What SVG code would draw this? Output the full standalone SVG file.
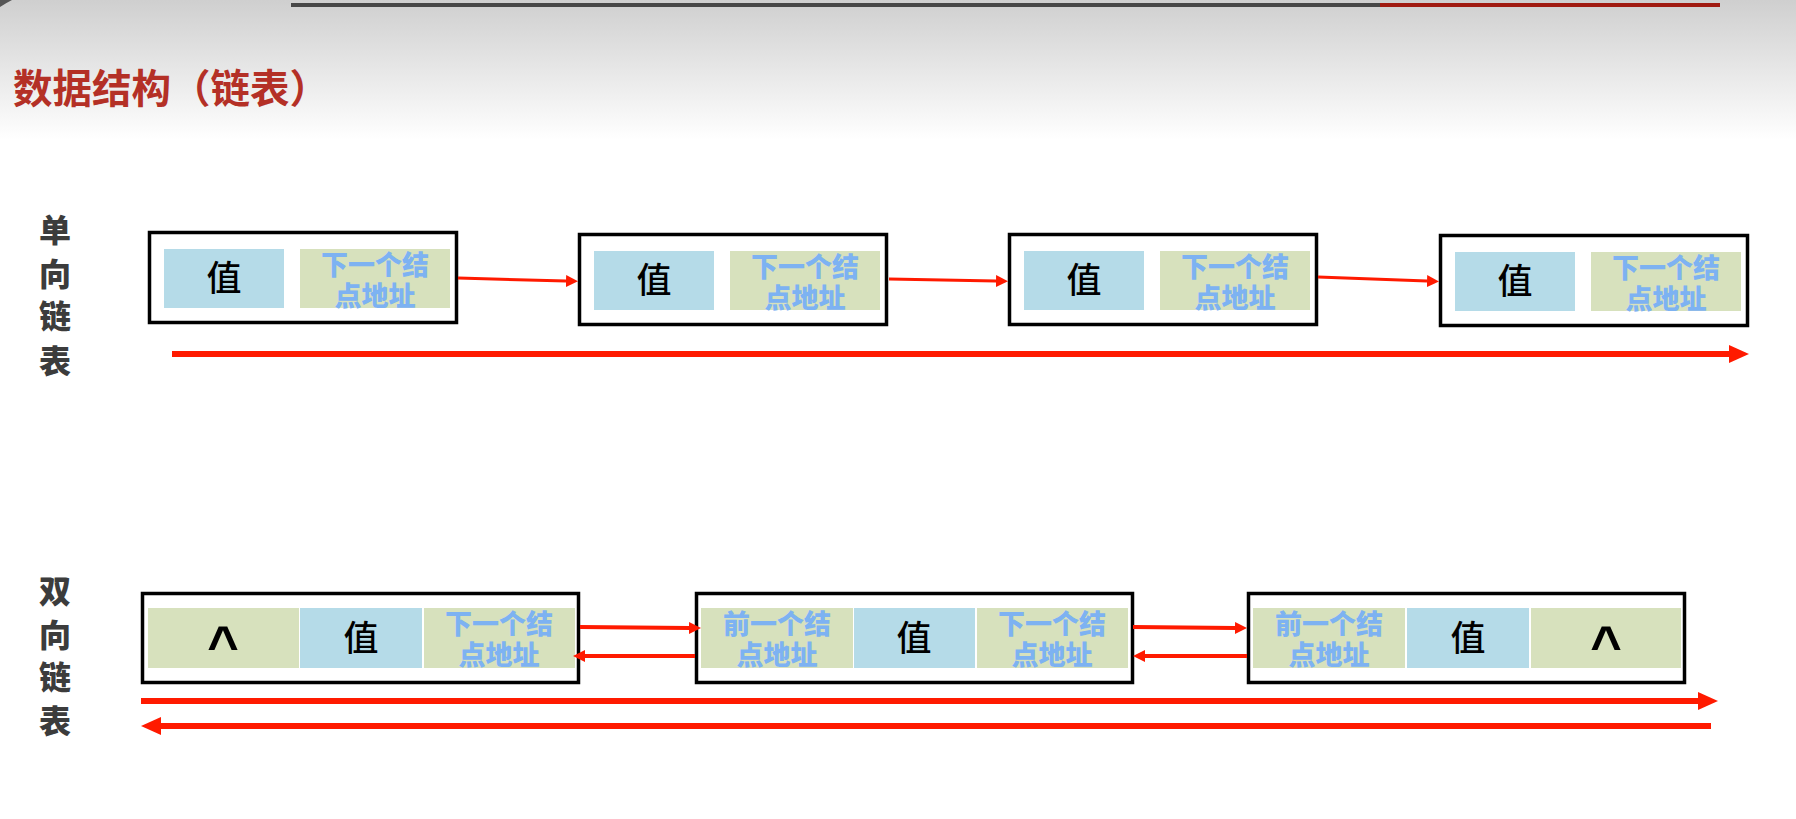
<svg xmlns="http://www.w3.org/2000/svg" width="1796" height="819" viewBox="0 0 1796 819">
<defs>
<linearGradient id="hdr" x1="0" y1="0" x2="0" y2="1">
<stop offset="0" stop-color="#cfcfcf"/>
<stop offset="1" stop-color="#ffffff"/>
</linearGradient>
<marker id="ah" markerUnits="userSpaceOnUse" markerWidth="12" markerHeight="12" viewBox="0 0 12 12" refX="0" refY="6" orient="auto"><path d="M0,0 L12,6 L0,12 z" fill="#ff1a00"/></marker>
<marker id="ahb" markerUnits="userSpaceOnUse" markerWidth="20" markerHeight="20" viewBox="0 0 20 20" refX="0" refY="10" orient="auto"><path d="M0,1 L20,10 L0,19 z" fill="#ff1a00"/></marker>
<style>
.box{fill:#ffffff;stroke:#000;stroke-width:3.5}
.cv{fill:#b5dbe8}
.cp{fill:#d7e1bd}
.val{font-family:"Noto Sans CJK SC","Noto Sans",sans-serif;font-size:35px;font-weight:500;fill:#000;text-anchor:middle}
.adr{font-family:"Noto Sans CJK SC","Noto Sans",sans-serif;font-size:27px;font-weight:900;fill:#7db2f2;text-anchor:middle}
.nil{font-family:"Liberation Sans",Arial,sans-serif;font-size:54px;font-weight:700;fill:#000;text-anchor:middle}
.lbl{font-family:"Noto Sans CJK SC","Noto Sans",sans-serif;font-size:32px;font-weight:900;fill:#3c3c3c;text-anchor:middle}
.ttl{font-family:"Noto Sans CJK SC","Noto Sans",sans-serif;font-size:39.5px;font-weight:700;fill:#b43026}
.c{stroke:#ff1a00;fill:none}
.thin{stroke-width:3;marker-end:url(#ah)}
.mid{stroke-width:4;marker-end:url(#ah)}
.thick{stroke-width:6;marker-end:url(#ahb)}
</style>
</defs>
<rect x="0" y="0" width="1796" height="819" fill="#ffffff"/>
<rect x="0" y="0" width="1796" height="140" fill="url(#hdr)"/>
<path d="M0,0 L12,0 Q6,3 0,7 z" fill="#555"/>
<rect x="291" y="3" width="1089" height="4" fill="#474747"/>
<rect x="1380" y="3" width="340" height="4" fill="#a01a10"/>
<text class="ttl" x="13" y="103">数据结构（链表）</text>

<g id="label-single">
<text class="lbl" x="55" y="242">单</text>
<text class="lbl" x="55" y="286">向</text>
<text class="lbl" x="55" y="328">链</text>
<text class="lbl" x="55" y="373">表</text>
</g>
<g id="label-double">
<text class="lbl" x="55" y="603">双</text>
<text class="lbl" x="55" y="647">向</text>
<text class="lbl" x="55" y="689">链</text>
<text class="lbl" x="55" y="733">表</text>
</g>

<g id="s1">
<rect class="box" x="149.5" y="232.5" width="307" height="90"/>
<rect class="cv" x="164" y="249" width="120" height="59"/>
<rect class="cp" x="300" y="249" width="150" height="59"/>
<text class="val" x="224" y="291">值</text>
<text class="adr" x="375" y="275">下一个结</text>
<text class="adr" x="375" y="306">点地址</text>
</g>
<g id="s2">
<rect class="box" x="579.5" y="234.5" width="307" height="90"/>
<rect class="cv" x="594" y="251" width="120" height="59"/>
<rect class="cp" x="730" y="251" width="150" height="59"/>
<text class="val" x="654" y="293">值</text>
<text class="adr" x="805" y="277">下一个结</text>
<text class="adr" x="805" y="308">点地址</text>
</g>
<g id="s3">
<rect class="box" x="1009.5" y="234.5" width="307" height="90"/>
<rect class="cv" x="1024" y="251" width="120" height="59"/>
<rect class="cp" x="1160" y="251" width="150" height="59"/>
<text class="val" x="1084" y="293">值</text>
<text class="adr" x="1235" y="277">下一个结</text>
<text class="adr" x="1235" y="308">点地址</text>
</g>
<g id="s4">
<rect class="box" x="1440.5" y="235.5" width="307" height="90"/>
<rect class="cv" x="1455" y="252" width="120" height="59"/>
<rect class="cp" x="1591" y="252" width="150" height="59"/>
<text class="val" x="1515" y="294">值</text>
<text class="adr" x="1666" y="278">下一个结</text>
<text class="adr" x="1666" y="309">点地址</text>
</g>

<g id="d1">
<rect class="box" x="142.5" y="593.5" width="436" height="89"/>
<rect class="cp" x="148" y="608" width="151" height="60"/>
<rect class="cv" x="300" y="608" width="122" height="60"/>
<rect class="cp" x="424" y="608" width="151" height="60"/>
<text class="nil" x="223" y="664">^</text>
<text class="val" x="361" y="651">值</text>
<text class="adr" x="499" y="634">下一个结</text>
<text class="adr" x="499" y="665">点地址</text>
</g>
<g id="d2">
<rect class="box" x="696.5" y="593.5" width="436" height="89"/>
<rect class="cp" x="701" y="608" width="152" height="60"/>
<rect class="cv" x="854" y="608" width="121" height="60"/>
<rect class="cp" x="977" y="608" width="151" height="60"/>
<text class="adr" x="777" y="634">前一个结</text>
<text class="adr" x="777" y="665">点地址</text>
<text class="val" x="914" y="651">值</text>
<text class="adr" x="1052" y="634">下一个结</text>
<text class="adr" x="1052" y="665">点地址</text>
</g>
<g id="d3">
<rect class="box" x="1248.5" y="593.5" width="436" height="89"/>
<rect class="cp" x="1253" y="608" width="152" height="60"/>
<rect class="cv" x="1407" y="608" width="122" height="60"/>
<rect class="cp" x="1531" y="608" width="150" height="60"/>
<text class="adr" x="1329" y="634">前一个结</text>
<text class="adr" x="1329" y="665">点地址</text>
<text class="val" x="1468" y="651">值</text>
<text class="nil" x="1606" y="664">^</text>
</g>

<g id="connectors">
<line class="c thin" x1="458" y1="278" x2="566" y2="281"/>
<line class="c thin" x1="889" y1="279" x2="996" y2="281"/>
<line class="c thin" x1="1318" y1="277" x2="1427" y2="281"/>
<line class="c thick" x1="172" y1="354" x2="1729" y2="354"/>
<line class="c mid" x1="580" y1="627" x2="689" y2="628"/>
<line class="c mid" x1="695" y1="656" x2="585" y2="656"/>
<line class="c mid" x1="1133" y1="627" x2="1235" y2="628"/>
<line class="c mid" x1="1247" y1="656" x2="1145" y2="656"/>
<line class="c thick" x1="141" y1="701" x2="1698" y2="701"/>
<line class="c thick" x1="1711" y1="726" x2="161" y2="726"/>
</g>
</svg>
